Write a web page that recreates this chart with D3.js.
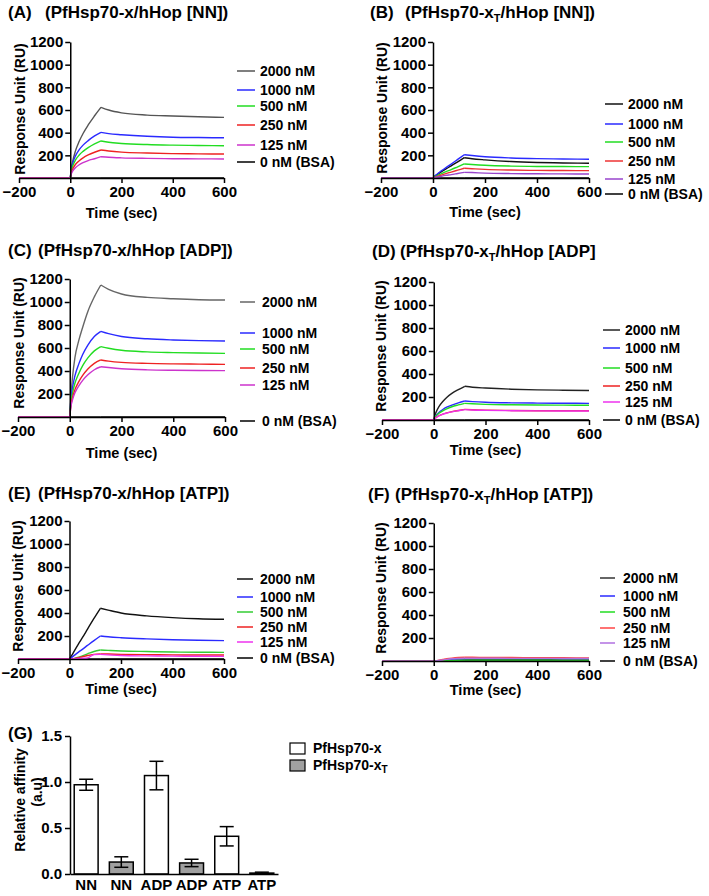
<!DOCTYPE html>
<html><head><meta charset="utf-8">
<script src="https://cdn.jsdelivr.net/npm/d3@7/dist/d3.min.js"></script>
<style>
body{margin:0;background:#fff}
svg text{font-family:"Liberation Sans",Arial,sans-serif;font-weight:bold;fill:#000}
</style>
</head><body>
<svg id="c" width="709" height="896"></svg>
<script>
// ---------- DATA ----------
const times = [-200, 0, 5, 10, 20, 35, 50, 70, 95, 120, 150, 200, 300, 400, 500, 600];
const concentrations = ["2000 nM", "1000 nM", "500 nM", "250 nM", "125 nM", "0 nM (BSA)"];
const xTicks = [-200, 0, 200, 400, 600];
const yTicks = [200, 400, 600, 800, 1000, 1200];
const zeros = [0,0,0,0,0,0,0,0,0,0,0,0,0,0,0,0];

// response (RU) per concentration, order: 2000, 1000, 500, 250, 125, BSA
const respA = [
  [0,0,87,150,237,324,393,468,549,624,600,575,555,547,540,535],
  [0,0,89,133,193,250,290,330,371,403,392,382,368,360,357,355],
  [0,0,72,108,157,203,235,268,301,327,315,305,295,290,287,285],
  [0,0,54,82,119,153,178,203,227,247,238,228,220,215,213,212],
  [0,0,41,62,90,117,135,154,170,188,183,178,173,170,169,168],
  zeros];
const respB = [
  [0,0,11,20,36,59,81,107,143,179,170,160,145,137,133,130],
  [0,0,12,23,41,68,92,123,164,205,198,188,177,171,168,166],
  [0,0,7,14,25,41,56,74,99,124,119,112,105,102,101,100],
  [0,0,5,9,17,28,39,52,69,86,82,76,70,67,66,65],
  [0,0,3,6,10,17,23,30,40,50,48,43,39,37,36,35],
  zeros];
const respC = [
  [0,0,195,333,517,666,781,918,1045,1148,1110,1070,1040,1028,1020,1017],
  [0,0,164,246,358,462,544,626,700,745,725,700,680,670,664,661],
  [0,0,135,202,294,379,447,514,575,612,598,580,566,560,556,553],
  [0,0,109,164,238,308,362,417,466,496,486,475,466,462,460,458],
  [0,0,96,144,210,271,319,367,411,437,430,420,410,406,404,403],
  zeros];
const respD = [
  [0,0,44,73,117,161,196,231,264,293,285,278,268,262,259,257],
  [0,0,25,41,66,91,111,130,149,165,160,154,149,147,146,145],
  [0,0,22,36,58,80,97,115,131,145,141,136,132,130,129,128],
  [0,0,14,23,37,51,62,73,83,92,89,86,83,81,80,80],
  [0,0,13,22,36,50,60,71,81,90,87,84,81,79,78,78],
  zeros];
const respE = [
  [0,0,18,35,75,132,185,260,353,441,425,400,375,360,350,345],
  [0,0,8,16,34,60,84,118,160,200,193,185,175,168,163,160],
  [0,0,0,2,6,15,28,45,65,78,75,70,65,61,59,58],
  [0,0,0,2,5,12,20,30,40,45,43,40,38,36,35,35],
  [0,0,0,1,2,4,6,9,38,40,36,30,27,25,24,23],
  zeros];
const respF = [
  [0,0,0,1,2,4,7,10,13,15,15,15,15,15,15,15],
  [0,0,0,1,2,4,7,12,17,20,21,21,21,21,20,20],
  [0,0,0,0,1,2,3,5,7,8,8,8,8,8,8,8],
  [0,0,0,3,7,13,19,25,30,32,32,31,30,29,28,27],
  [0,0,0,2,5,9,14,19,22,24,24,24,23,23,22,22],
  zeros];

// Panel G
const conditions = ["NN", "ADP", "ATP"];
const proteins = ["PfHsp70-x", "PfHsp70-xT"];
const affinityX = [0.97, 1.07, 0.41];
const errX = [0.06, 0.155, 0.105];
const affinityXT = [0.13, 0.12, 0.01];
const errXT = [0.057, 0.04, 0.01];
const gTicks = [0, 0.5, 1.0, 1.5];

// ---------- LAYOUT / STYLE ----------
const svg = d3.select("#c");
const FONT = '"Liberation Sans", Arial, sans-serif';

const panels = [
  {tag:"(A)", tagX:8, tx:45, ty:18, pre:"(PfHsp70-x", sub:null, post:"/hHop [NN])", data:respA,
   xr:[19,224], yr:[178,42], ylx:25, yly:109, tly:218,
   colors:["#555555","#2a2aff","#22dd22","#ee2222","#cc33cc","#000000"],
   lx1:237, lx2:255, ltx:260, ly:[71,90,106,125,145,162]},
  {tag:"(B)", tagX:370, tx:405, ty:18, pre:"(PfHsp70-x", sub:"T", post:"/hHop [NN])", data:respB,
   xr:[381,589], yr:[178,42], ylx:387, yly:108, tly:217,
   colors:["#111111","#2a2aff","#22dd22","#ee3333","#9944cc","#000000"],
   lx1:605, lx2:623, ltx:628, ly:[104,124,142,161,179,194]},
  {tag:"(C)", tagX:8, tx:38, ty:256, pre:"(PfHsp70-x", sub:null, post:"/hHop [ADP])", data:respC,
   xr:[18,225], yr:[417,279], ylx:24, yly:343, tly:458,
   colors:["#666666","#2a2aff","#22dd22","#ee2222","#cc33cc","#000000"],
   lx1:240, lx2:255, ltx:262, ly:[302,333,349,368,385,421]},
  {tag:"(D)", tagX:372, tx:400, ty:257, pre:"(PfHsp70-x", sub:"T", post:"/hHop [ADP]", data:respD,
   xr:[382,589], yr:[420,282], ylx:386, yly:346, tly:455,
   colors:["#222222","#2a2aff","#22dd22","#ee2222","#ee33ee","#000000"],
   lx1:603, lx2:620, ltx:625, ly:[330,348,368,386,402,420]},
  {tag:"(E)", tagX:8, tx:38, ty:499, pre:"(PfHsp70-x", sub:null, post:"/hHop [ATP])", data:respE,
   xr:[18,224], yr:[659,521], ylx:23, yly:586, tly:694,
   colors:["#111111","#2a2aff","#33cc33","#ee2222","#ee33ee","#000000"],
   lx1:237, lx2:253, ltx:260, ly:[579,597,612,627,642,658]},
  {tag:"(F)", tagX:368, tx:395, ty:500, pre:"(PfHsp70-x", sub:"T", post:"/hHop [ATP])", data:respF,
   xr:[382,589], yr:[661,523], ylx:386, yly:588, tly:695,
   colors:["#333333","#2a2aff","#22dd22","#ff4444","#b070e0","#000000"],
   lx1:600, lx2:615, ltx:623, ly:[578,596,612,628,643,661]}
];

function styleAxis(g, fs){
  g.attr("font-family", FONT).attr("font-size", fs).attr("font-weight","bold");
  g.selectAll("path,line").attr("stroke","#000").attr("stroke-width",1.5);
  g.selectAll("text").attr("fill","#000");
}

function drawTitle(p){
  svg.append("text").attr("x",p.tagX).attr("y",p.ty).attr("font-size",17).text(p.tag);
  const t = svg.append("text").attr("x",p.tx).attr("y",p.ty).attr("font-size",17);
  t.append("tspan").text(p.pre);
  if(p.sub){
    t.append("tspan").attr("font-size",11).attr("dy",4).text(p.sub);
    t.append("tspan").attr("dy",-4).text(p.post);
  } else t.append("tspan").text(p.post);
}

panels.forEach(p=>{
  const x = d3.scaleLinear().domain([-200,600]).range(p.xr);
  const y = d3.scaleLinear().domain([0,1200]).range(p.yr);
  drawTitle(p);

  // curves: baseline, association, dissociation segments
  const line = d3.line().x(d=>x(d[0])).y(d=>y(d[1])).curve(d3.curveMonotoneX);
  const order = [5,0,1,2,3,4];
  order.forEach(si=>{
    const pts = times.map((t,i)=>[t,p.data[si][i]]);
    const segs = [pts.slice(0,2), pts.slice(1,10), pts.slice(9)];
    segs.forEach(s=>{
      svg.append("path").attr("d",line(s)).attr("fill","none")
        .attr("stroke",p.colors[si]).attr("stroke-width",1.4);
    });
  });

  // axes
  const gx = svg.append("g").attr("transform",`translate(0,${y(0)})`)
    .call(d3.axisBottom(x).tickValues(xTicks).tickFormat(d3.format("d")).tickSize(5).tickSizeOuter(0).tickPadding(3));
  styleAxis(gx, 15);
  const gy = svg.append("g").attr("transform",`translate(${x(0)},0)`)
    .call(d3.axisLeft(y).tickValues(yTicks).tickFormat(d3.format("d")).tickSize(5).tickSizeOuter(0).tickPadding(2));
  styleAxis(gy, 15);

  // axis labels
  svg.append("text").attr("transform",`translate(${p.ylx},${p.yly}) rotate(-90)`)
    .attr("text-anchor","middle").attr("font-size",14).text("Response Unit (RU)");
  svg.append("text").attr("x",(p.xr[0]+p.xr[1])/2).attr("y",p.tly)
    .attr("text-anchor","middle").attr("font-size",14.5).text("Time (sec)");

  // legend
  concentrations.forEach((c,i)=>{
    svg.append("line").attr("x1",p.lx1).attr("x2",p.lx2).attr("y1",p.ly[i]).attr("y2",p.ly[i])
      .attr("stroke",p.colors[i]).attr("stroke-width",1.5);
    svg.append("text").attr("x",p.ltx).attr("y",p.ly[i]+5).attr("font-size",14).text(c);
  });
});

// ---------- Panel G ----------
(function(){
  const bars = [];
  conditions.forEach((c,i)=>{
    bars.push({key:c+"-x", label:c, v:affinityX[i], e:errX[i], fill:"#ffffff"});
    bars.push({key:c+"-xT", label:c, v:affinityXT[i], e:errXT[i], fill:"#a0a0a0"});
  });
  const x = d3.scaleBand().domain(bars.map(b=>b.key)).range([70,278]).paddingInner(0.32).paddingOuter(0.12);
  const y = d3.scaleLinear().domain([0,1.5]).range([874,736]);

  svg.append("text").attr("x",8).attr("y",739).attr("font-size",17).text("(G)");

  svg.selectAll(".bar").data(bars).enter().append("rect")
    .attr("x",d=>x(d.key)).attr("width",x.bandwidth())
    .attr("y",d=>y(d.v)).attr("height",d=>y(0)-y(d.v))
    .attr("fill",d=>d.fill).attr("stroke","#000").attr("stroke-width",1.5);

  bars.forEach(b=>{
    const cx = x(b.key)+x.bandwidth()/2;
    const top = y(b.v+b.e), bot = y(Math.max(0,b.v-b.e));
    svg.append("line").attr("x1",cx).attr("x2",cx).attr("y1",top).attr("y2",bot).attr("stroke","#000").attr("stroke-width",1.5);
    [top,bot].forEach(yy=>svg.append("line").attr("x1",cx-7).attr("x2",cx+7).attr("y1",yy).attr("y2",yy).attr("stroke","#000").attr("stroke-width",1.5));
  });

  const gy = svg.append("g").attr("transform","translate(70,0)")
    .call(d3.axisLeft(y).tickValues(gTicks).tickFormat(d3.format(".1f")).tickSize(5).tickSizeOuter(0).tickPadding(3));
  styleAxis(gy, 15);
  const gx = svg.append("g").attr("transform",`translate(0,${y(0)})`)
    .call(d3.axisBottom(x).tickSize(0).tickSizeOuter(0).tickPadding(5).tickFormat(k=>bars.find(b=>b.key===k).label));
  styleAxis(gx, 15);

  svg.append("text").attr("transform","translate(25,800) rotate(-90)").attr("text-anchor","middle")
    .attr("font-size",14).text("Relative affinity");
  svg.append("text").attr("transform","translate(42,792) rotate(-90)").attr("text-anchor","middle")
    .attr("font-size",14).text("(a.u)");

  // legend
  const lg = [{y:743, fill:"#ffffff", pre:"PfHsp70-x", sub:null},
              {y:760, fill:"#a0a0a0", pre:"PfHsp70-x", sub:"T"}];
  lg.forEach(d=>{
    svg.append("rect").attr("x",290).attr("y",d.y).attr("width",15).attr("height",11)
      .attr("fill",d.fill).attr("stroke","#000").attr("stroke-width",1.2);
    const t = svg.append("text").attr("x",313).attr("y",d.y+10).attr("font-size",14);
    t.append("tspan").text(d.pre);
    if(d.sub) t.append("tspan").attr("font-size",10).attr("dy",3).text(d.sub);
  });
})();
</script>
</body></html>
